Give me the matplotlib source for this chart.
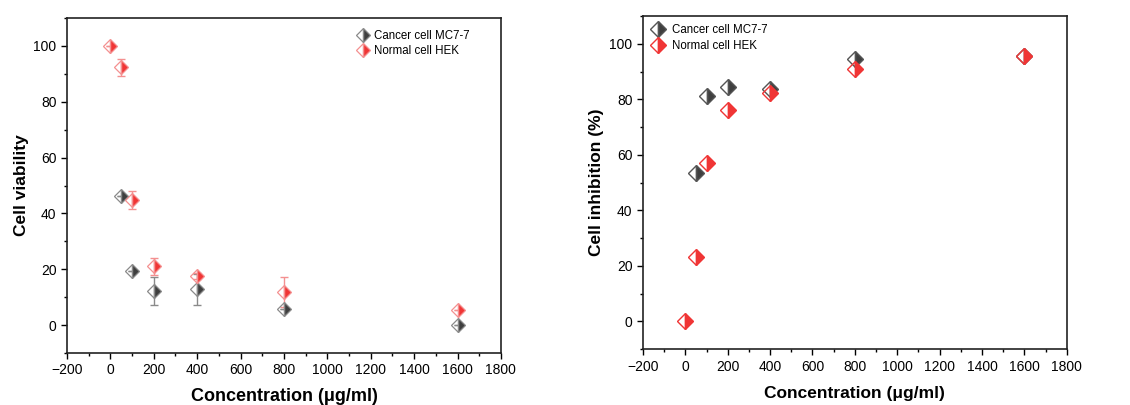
import numpy as np
import matplotlib.pyplot as plt
from matplotlib.ticker import MultipleLocator

plt.rcParams['font.family'] = ['Liberation Sans', 'DejaVu Sans']

# Cell viability (%) vs concentration
conc_cancer = [50, 100, 200, 400, 800, 1600]
viab_cancer = [46.3, 19.5, 12.2, 12.8, 5.7, 0.0]
viab_cancer_err = [0.0, 0.0, 5.0, 5.5, 0.0, 0.0]

conc_normal = [0, 50, 100, 200, 400, 800, 1600]
viab_normal = [100.0, 92.3, 44.8, 21.1, 17.5, 12.0, 5.3]
viab_normal_err = [0.0, 2.9, 3.2, 3.0, 1.0, 5.4, 0.0]

# Cell inhibition (%) vs concentration
inh_cancer = [53.4, 81.1, 84.6, 83.7, 94.6, 95.5]
inh_normal = [0.0, 23.1, 57.2, 76.1, 82.2, 91.1, 95.7]

dark = '#3f3f3f'
dark_edge = '#8a8a8a'
red = '#f03535'
red_edge = '#f49090'


def style_axes(ax):
    ax.set_xlim(-200, 1800)
    ax.set_ylim(-10, 110)
    ax.xaxis.set_major_locator(MultipleLocator(200))
    ax.xaxis.set_minor_locator(MultipleLocator(100))
    ax.yaxis.set_major_locator(MultipleLocator(20))
    ax.yaxis.set_minor_locator(MultipleLocator(10))
    ax.tick_params(which='both', direction='out', top=False, right=False,
                   labelsize=10, width=1)
    ax.tick_params(which='major', length=4)
    ax.tick_params(which='minor', length=2.5)
    for s in ax.spines.values():
        s.set_linewidth(1.2)
        s.set_color('#222222')


fig = plt.figure(figsize=(11.3, 4.05), dpi=100)

ax1 = fig.add_axes([0.0593, 0.1284, 0.384, 0.827])
ax1.errorbar(conc_cancer, viab_cancer, yerr=viab_cancer_err, fmt='none',
             ecolor=dark_edge, elinewidth=1, capsize=3, capthick=1)
ax1.errorbar(conc_normal, viab_normal, yerr=viab_normal_err, fmt='none',
             ecolor=red_edge, elinewidth=1, capsize=3, capthick=1)
ax1.plot(conc_cancer, viab_cancer, ls='none', marker='D', ms=7, fillstyle='right',
         mfc=dark, mfcalt='none', mec=dark_edge, mew=0.9, label='Cancer cell MC7-7')
ax1.plot(conc_normal, viab_normal, ls='none', marker='D', ms=7, fillstyle='right',
         mfc=red, mfcalt='none', mec=red_edge, mew=0.9, label='Normal cell HEK')
style_axes(ax1)
ax1.set_xlabel('Concentration (μg/ml)', fontsize=13, fontweight='bold')
ax1.set_ylabel('Cell viability', fontsize=12.5, fontweight='bold', labelpad=3)
ax1.xaxis.set_label_coords(0.5, -0.105)
ax1.legend(loc='upper right', frameon=False, fontsize=8.3, handletextpad=0.4,
           borderaxespad=0.6, labelspacing=0.3, handlelength=1.2,
           bbox_to_anchor=(0.955, 1.0))

ax2 = fig.add_axes([0.569, 0.138, 0.375, 0.822])
ax2.plot(conc_cancer, inh_cancer, ls='none', marker='D', ms=8.5, fillstyle='right',
         mfc=dark, mfcalt='none', mec='#555555', mew=1.0, label='Cancer cell MC7-7')
ax2.plot(conc_normal, inh_normal, ls='none', marker='D', ms=8.5, fillstyle='right',
         mfc=red, mfcalt='none', mec=red, mew=1.0, label='Normal cell HEK')
style_axes(ax2)
ax2.set_xlabel('Concentration (μg/ml)', fontsize=12.5, fontweight='bold')
ax2.set_ylabel('Cell inhibition (%)', fontsize=12.5, fontweight='bold', labelpad=4)
ax2.xaxis.set_label_coords(0.5, -0.11)
ax2.legend(loc='upper left', frameon=False, fontsize=8.3, handletextpad=0.6,
           borderaxespad=0.3, labelspacing=0.3, handlelength=1.2)

fig.savefig('out.png', dpi=100)
